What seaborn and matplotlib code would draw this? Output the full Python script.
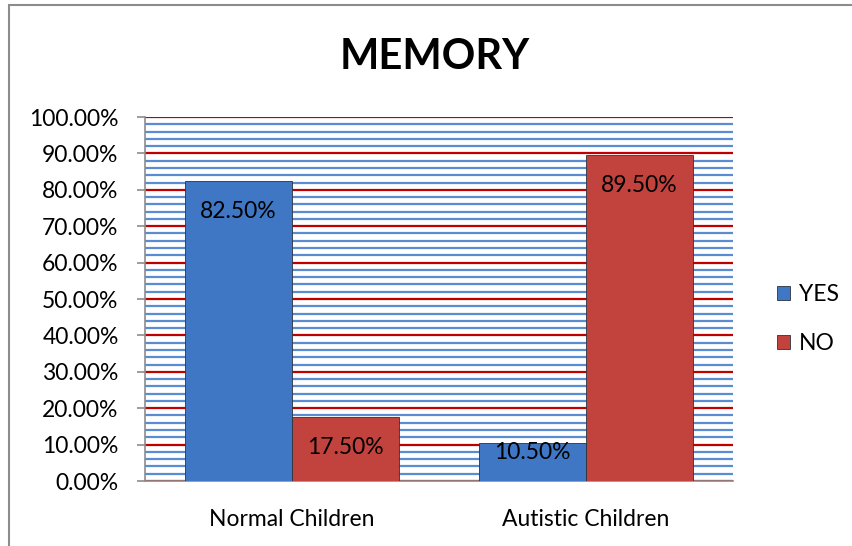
import pandas as pd
import matplotlib.pyplot as plt
import seaborn as sns
from matplotlib.patches import Rectangle
from matplotlib.ticker import MultipleLocator, FixedLocator, PercentFormatter

# Chart data
categories = ["Normal Children", "Autistic Children"]
yes_values = [82.5, 10.5]
no_values = [17.5, 89.5]
series_names = ["YES", "NO"]

df = pd.DataFrame({
    "group": categories * 2,
    "answer": [series_names[0]] * len(categories) + [series_names[1]] * len(categories),
    "value": yes_values + no_values,
})

sns.set_style("white")
plt.rcParams['font.family'] = ['Lato', 'DejaVu Sans']
plt.rcParams['text.color'] = 'black'
plt.rcParams['xtick.color'] = 'black'
plt.rcParams['ytick.color'] = 'black'

fig = plt.figure(figsize=(8.52, 5.46), dpi=100)
ax = fig.add_axes([145 / 852, 65 / 546, 588 / 852, 364 / 546])

# outer chart border
fig.patches.append(Rectangle((9 / 852, -0.05), 1.0, (541 / 546) + 0.05,
                             transform=fig.transFigure, fill=False,
                             edgecolor='#8c8c8c', linewidth=1.5, zorder=0))

palette = {"YES": "#3f77c4", "NO": "#c2423e"}
sns.barplot(data=df, x="group", y="value", hue="answer", hue_order=series_names,
            order=categories, palette=palette, width=0.73, saturation=1,
            edgecolor="#2b3440", linewidth=0.6, legend=True, ax=ax, zorder=3)

ax.set_xlim(-0.5, 1.5)
ax.set_ylim(0, 100)
ax.yaxis.set_major_locator(MultipleLocator(10))
ax.yaxis.set_minor_locator(MultipleLocator(2))
ax.yaxis.set_major_formatter(PercentFormatter(decimals=2))
ax.grid(which='minor', axis='y', color='#5b8bd0', linewidth=1.6, zorder=0)
ax.grid(which='major', axis='y', color='#c00000', linewidth=1.6, zorder=1)
ax.set_axisbelow(True)

ax.xaxis.set_minor_locator(FixedLocator([-0.5, 0.5, 1.5]))
ax.tick_params(axis='x', which='major', length=0, pad=20, labelsize=16.5,
               labelcolor='black')
ax.tick_params(axis='x', which='minor', length=6, color='#8c8c8c', width=1.2)
ax.tick_params(axis='y', which='major', length=6, color='#8c8c8c', width=1.2,
               labelsize=16.5, pad=13, left=True, labelcolor='black')
ax.tick_params(axis='y', which='minor', length=0)

for side in ['top', 'right']:
    ax.spines[side].set_visible(False)
for side in ['left', 'bottom']:
    ax.spines[side].set_color('#8c8c8c')
    ax.spines[side].set_linewidth(1.2)

ax.set_xlabel("")
ax.set_ylabel("")

# value labels inside the top of each bar
for container in ax.containers:
    for bar in container:
        h = bar.get_height()
        off = -22 if h > 15 else -7
        ax.annotate(f"{h:.2f}%", (bar.get_x() + bar.get_width() / 2, h),
                    xytext=(0, off), textcoords='offset points',
                    ha='center', va='center', fontsize=16.5, color='black', zorder=5)

fig.text(435 / 852, 1 - 57 / 546, "MEMORY", ha='center', va='center',
         fontsize=30, fontweight='bold', color='black')

leg = ax.legend(loc='center left', bbox_to_anchor=(1.04, 0.445), frameon=False,
                fontsize=16.5, handlelength=0.55, handleheight=0.55,
                handletextpad=0.4, labelspacing=1.23)
for t in leg.get_texts():
    t.set_color('black')

plt.savefig("out.png", dpi=100)
